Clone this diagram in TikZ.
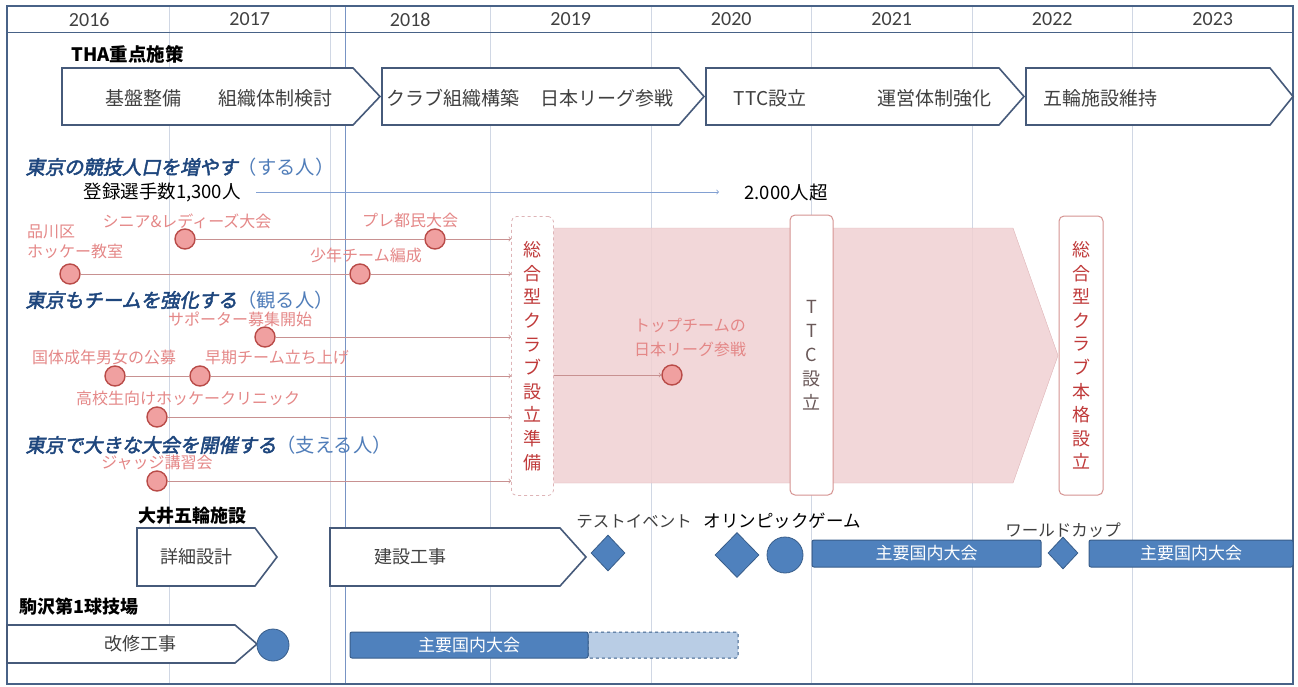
\documentclass[tikz,border=0pt]{standalone}
\usepackage{fontspec}
\setmainfont{Noto Sans CJK JP}
\newfontfamily\yearfont{Carlito}
\newfontfamily\headfont[FakeSlant=0.2,FakeBold=2.5]{Noto Sans CJK JP}
\usetikzlibrary{shapes.geometric,positioning}
\definecolor{framec}{RGB}{72,98,135}
\definecolor{gridc}{RGB}{208,215,228}
\definecolor{nowc}{RGB}{120,148,196}
\definecolor{chevc}{RGB}{70,90,122}
\definecolor{barblue}{RGB}{79,129,189}
\definecolor{bardark}{RGB}{56,93,138}
\definecolor{barlight}{RGB}{185,205,229}
\definecolor{pinkfill}{RGB}{240,208,210}
\definecolor{pinkedge}{RGB}{222,180,183}
\definecolor{dotfill}{RGB}{240,160,160}
\definecolor{dotline}{RGB}{185,75,72}
\definecolor{evtext}{RGB}{228,135,135}
\definecolor{evline}{RGB}{200,145,145}
\definecolor{clubred}{RGB}{192,58,58}
\definecolor{ttcgray}{RGB}{105,88,88}
\definecolor{headnavy}{RGB}{30,70,125}
\definecolor{headblue}{RGB}{80,125,185}
\definecolor{regline}{RGB}{130,160,210}
\newcommand{\fs}[1]{\fontsize{#1}{#1}\selectfont}
% pentagon arrow: left, right, tip, top, bottom
\newcommand{\chev}[5]{\draw[chevline] (#1,#4) -- (#2,#4) -- (#3,{(#4+#5)/2}) -- (#2,#5) -- (#1,#5) -- cycle;}

\begin{document}
\begin{tikzpicture}[x=1pt,y=-1pt,
  chevline/.style={draw=chevc,line width=1.6pt,fill=white,line join=miter},
  yearlbl/.style={font=\yearfont\fs{20},text=black!75},
  chevtxt/.style={font=\fs{19},text=black!75},
  evdot/.style={circle,draw=dotline,fill=dotfill,line width=1.4pt,minimum size=20pt,inner sep=0pt},
  evlbl/.style={font=\fs{16},text=evtext,inner sep=1pt},
  evseg/.style={draw=evline,line width=0.8pt},
  evarrow/.style={evseg,->},
  vbox/.style={rectangle,rounded corners=5pt,fill=white,minimum width=42pt,minimum height=279pt,align=center,inner sep=0pt},
  bluebar/.style={rectangle,rounded corners=2pt,fill=barblue,draw=bardark,line width=1pt,minimum height=27pt,inner sep=0pt,text=white,font=\fs{17}},
  milestone/.style={fill=barblue,draw=bardark,line width=0.8pt,inner sep=0pt},
  boldlbl/.style={font=\bfseries\fs{18},text=black}]
\useasboundingbox (0,0) rectangle (1298,686);
% grid
\foreach \i in {1,...,7} \draw[gridc,line width=0.8pt] ({9+160.5*\i},6) -- ({9+160.5*\i},684);
\draw[nowc,line width=0.9pt] (345,6) -- (345,684);
\draw[framec,line width=1pt] (7,32) -- (1293,32);
\draw[framec,line width=1.5pt] (7,6) rectangle (1293,684);
\foreach \yr [count=\i from 0] in {2016,...,2023}
  \node[yearlbl] (y\yr) at ({89.25+160.5*\i},19.5) {\yr};

% THA
\node[boldlbl,font=\bfseries\fs{18.5},anchor=west] (tha) at (68,54) {THA重点施策};
\chev{62}{353}{380}{68}{125}
\chev{382}{679}{704}{68}{125}
\chev{706}{999}{1024}{68}{125}
\chev{1026}{1270}{1293}{68}{125}
\node[chevtxt] (kiban) at (143,98) {基盤整備};
\node[chevtxt] (soshiki) at (275,98) {組織体制検討};
\node[chevtxt] (club) at (453,98) {クラブ組織構築};
\node[chevtxt] (league) at (607,98) {日本リーグ参戦};
\node[chevtxt] (ttcset) at (770,98) {TTC設立};
\node[chevtxt] (unei) at (934,98) {運営体制強化};
\node[chevtxt] (iji) at (1100,98) {五輪施設維持};

% headings
\node[anchor=west,font=\fs{19.3}] (hd1) at (22,167) {{\headfont\color{headnavy}東京の競技人口を増やす}\color{headblue}（する人）};
\node[anchor=west,font=\fs{19.3}] (hd2) at (22,300) {{\headfont\color{headnavy}東京もチームを強化する}\color{headblue}（観る人）};
\node[anchor=west,font=\fs{19.3}] (hd3) at (22,445) {{\headfont\color{headnavy}東京で大きな大会を開催する}\color{headblue}（支える人）};
\node[anchor=west,font=\fs{18.5}] (reg) at (80,192) {登録選手数1,300人};
\node[anchor=west,font=\fs{18.5}] (over) at (741,192) {2.000人超};
\draw[regline,line width=0.8pt,->,shorten <=12pt,shorten >=22pt] (reg) -- (over);

% pink band
\filldraw[fill=pinkfill,draw=pinkedge,fill opacity=0.85] (553,228) -- (1013,228) -- (1058,355.5) -- (1013,483) -- (553,483) -- cycle;
\node[vbox,draw=pinkedge,dashed,line width=0.8pt,text=clubred,font=\fontsize{18}{23.6}\selectfont] (prep) at (532.5,356) {総\\合\\型\\ク\\ラ\\ブ\\設\\立\\準\\備};
\node[vbox,draw=dotline!60,line width=1pt,text=ttcgray,font=\fontsize{18}{24}\selectfont,minimum width=43pt,minimum height=280pt] (ttc) at (811.5,355) {T\\T\\C\\設\\立};
\node[vbox,draw=dotline!60,line width=1pt,text=clubred,font=\fontsize{18}{23.6}\selectfont,minimum width=44pt] (honkaku) at (1081,355.5) {総\\合\\型\\ク\\ラ\\ブ\\本\\格\\設\\立};

% events
\node[evdot] (senior) at (185,239) {};
\node[evdot] (pretomin) at (435,239) {};
\node[evdot] (shinagawa) at (70,274) {};
\node[evdot] (shonen) at (360,274) {};
\node[evdot] (supporter) at (265,337) {};
\node[evdot] (kokutai) at (115,376) {};
\node[evdot] (soki) at (200,376) {};
\node[evdot] (koko) at (157,417) {};
\node[evdot] (judge) at (157,481) {};
\node[evdot] (topteam) at (672,375) {};
\node[evlbl] (seniorl) at (187,221) {シニア\&レディーズ大会};
\node[evlbl] (pretominl) at (410,220) {プレ都民大会};
\node[evlbl,anchor=west,align=left,font=\fontsize{16}{20}\selectfont] (shinagawal) at (26,242) {品川区\\ホッケー教室};
\node[evlbl] (shonenl) at (366,255) {少年チーム編成};
\node[evlbl] (supporterl) at (240,319) {サポーター募集開始};
\node[evlbl] (kokutail) at (104,357) {国体成年男女の公募};
\node[evlbl] (sokil) at (277,357) {早期チーム立ち上げ};
\node[evlbl] (kokol) at (188,398) {高校生向けホッケークリニック};
\node[evlbl] (judgel) at (157,462) {ジャッジ講習会};
\node[evlbl,align=center,font=\fontsize{16}{24}\selectfont] (topteaml) at (690,338) {トップチームの\\日本リーグ参戦};
\draw[evseg] (senior) -- (pretomin);
\draw[evarrow] (pretomin) -- (pretomin -| prep.west);
\draw[evseg] (shinagawa) -- (shonen);
\draw[evarrow] (shonen) -- (shonen -| prep.west);
\draw[evarrow] (supporter) -- (supporter -| prep.west);
\draw[evseg] (kokutai) -- (soki);
\draw[evarrow] (soki) -- (soki -| prep.west);
\draw[evarrow] (koko) -- (koko -| prep.west);
\draw[evarrow] (judge) -- (judge -| prep.west);
\draw[evarrow] (prep.east |- topteam) -- (topteam);

% Oi venue
\node[boldlbl] (oi) at (192,516) {大井五輪施設};
\chev{137}{255}{277}{528}{586}
\chev{330}{560}{586}{528}{586}
\node[chevtxt,font=\fs{18}] (shosai) at (196,557) {詳細設計};
\node[chevtxt,font=\fs{18}] (kensetsu) at (410,557) {建設工事};
\node[milestone,diamond,minimum width=34pt,minimum height=36pt] (test) at (608,553) {};
\node[milestone,diamond,minimum width=44pt,minimum height=45pt] (olydia) at (737,555) {};
\node[milestone,circle,minimum size=36pt] (olycirc) at (785,555) {};
\node[milestone,diamond,minimum width=30pt,minimum height=32pt] (wcup) at (1063,553) {};
\node[font=\fs{16.5},text=black!75] (testl) at (634,521) {テストイベント};
\node[font=\fs{17.5},text=black] (olyl) at (782,521) {オリンピックゲーム};
\node[font=\fs{16.5},text=black!75] (wcupl) at (1063,530) {ワールドカップ};
\node[bluebar,minimum width=229pt] (tour1) at (926.5,553.5) {主要国内大会};
\node[bluebar,minimum width=204pt] (tour2) at (1191,553.5) {主要国内大会};

% Komazawa
\node[boldlbl,anchor=west] (koma) at (16,607) {駒沢第1球技場};
\chev{7}{235}{257}{625}{663}
\node[chevtxt,font=\fs{18}] (kaishu) at (140,644) {改修工事};
\node[milestone,circle,minimum size=32pt] (komadone) at (273,645) {};
\node[bluebar,minimum width=150pt,minimum height=26pt,fill=barlight,dashed] (tour4) at (663,645) {};
\node[bluebar,minimum width=238pt,minimum height=26pt] (tour3) at (469,645) {主要国内大会};
\end{tikzpicture}
\end{document}
